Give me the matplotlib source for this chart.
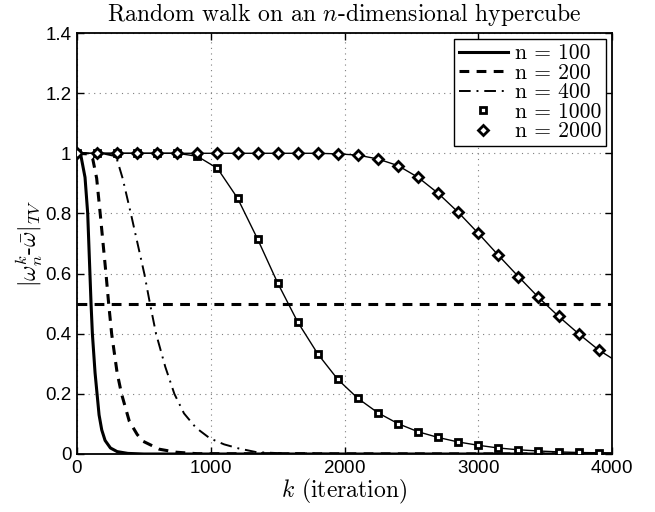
import matplotlib
matplotlib.use("Agg")
import matplotlib.pyplot as plt
import numpy as np

plt.rcParams['mathtext.fontset'] = 'cm'
plt.rcParams['axes.formatter.use_mathtext'] = True

# ---- data ----
k100 = [0, 30, 60, 80, 95, 105, 115, 135, 150, 165, 185, 210, 250, 300, 380, 500, 4000]
v100 = [1.0, 0.99, 0.92, 0.80, 0.62, 0.50, 0.40, 0.27, 0.20, 0.13, 0.08, 0.045, 0.02, 0.008, 0.002, 0.0, 0.0]

k200 = [0, 80, 117, 147, 174, 217, 237, 259, 300, 333, 391, 450, 491, 615, 740, 900, 4000]
v200 = [1.0, 0.998, 0.983, 0.917, 0.797, 0.598, 0.499, 0.40, 0.27, 0.20, 0.109, 0.065, 0.043, 0.016, 0.006, 0.001, 0.0]

k400 = [0, 200, 292, 341, 404, 504, 546, 591, 660, 728, 800, 890, 994, 1100, 1213, 1343, 1500, 2000, 4000]
v400 = [1.0, 0.999, 0.99, 0.917, 0.797, 0.598, 0.499, 0.40, 0.29, 0.20, 0.135, 0.087, 0.052, 0.032, 0.018, 0.006, 0.003, 0.0, 0.0]

k_mark = [0, 150, 300, 450, 600, 750, 900, 1050, 1200, 1350, 1500, 1650, 1800, 1950,
          2100, 2250, 2400, 2550, 2700, 2850, 3000, 3150, 3300, 3450, 3600, 3750, 3900]
v1000 = [1.0, 1.0, 1.0, 1.0, 1.0, 1.0, 0.99, 0.95, 0.851, 0.715, 0.569, 0.439, 0.333, 0.248,
         0.185, 0.137, 0.101, 0.074, 0.055, 0.040, 0.029, 0.020, 0.014, 0.010, 0.007, 0.005, 0.004]
v2000 = [1.0, 1.0, 1.0, 1.0, 1.0, 1.0, 1.0, 1.0, 1.0, 1.0, 1.0, 1.0, 1.0, 0.998,
         0.994, 0.981, 0.959, 0.920, 0.867, 0.804, 0.734, 0.661, 0.590, 0.521, 0.458, 0.400, 0.346]
k_end = 4000
v1000_end = 0.003
v2000_end = 0.318

threshold = 0.5
labels = ['n = 100', 'n = 200', 'n = 400', 'n = 1000', 'n = 2000']
xticks = [0, 1000, 2000, 3000, 4000]
yticks = [0, 0.2, 0.4, 0.6, 0.8, 1.0, 1.2, 1.4]
yticklabels = ['0', '0.2', '0.4', '0.6', '0.8', '1', '1.2', '1.4']

# ---- figure ----
fig = plt.figure(figsize=(6.55, 5.12), dpi=100)
ax = fig.add_axes([77/655, 58/512, 535/655, 421/512])

ax.plot(k100, v100, color='k', lw=2.2, ls='-', label=labels[0], zorder=3)
ax.plot(k200, v200, color='k', lw=2.2, ls=(0, (3.2, 2.4)), label=labels[1], zorder=3)
ax.plot(k400, v400, color='k', lw=1.4, ls=(0, (6, 3, 1, 3)), label=labels[2], zorder=3)

ax.axhline(threshold, color='k', lw=2.2, ls=(0, (3.2, 2.4)), zorder=2)

ax.plot(k_mark + [k_end], v1000 + [v1000_end], color='k', lw=1.0, zorder=3)
ax.plot(k_mark + [k_end], v2000 + [v2000_end], color='k', lw=1.0, zorder=3)
ax.plot(k_mark, v1000, ls='none', marker='s', ms=4.6, mfc='white', mec='k', mew=2.0,
        label=labels[3], zorder=4)
ax.plot(k_mark, v2000, ls='none', marker='D', ms=5.0, mfc='white', mec='k', mew=2.0,
        label=labels[4], zorder=4)

ax.set_xlim(0, 4000)
ax.set_ylim(0, 1.4)
ax.set_xticks(xticks)
ax.set_yticks(yticks)
ax.set_yticklabels(yticklabels)
for lab in ax.get_xticklabels() + ax.get_yticklabels():
    lab.set_fontfamily('Liberation Sans')
    lab.set_fontsize(13.5)

ax.tick_params(direction='in', length=5, width=1.0, top=True, right=True, pad=4)
ax.grid(True, color='#7f7f7f', ls=(0, (1, 4)), lw=0.8)
for s in ax.spines.values():
    s.set_linewidth(1.3)

ax.set_title('Random walk on an $n$-dimensional hypercube', fontfamily='cmr10', fontsize=17, pad=9)
ax.set_xlabel('$k$ (iteration)', fontfamily='cmr10', fontsize=17, labelpad=0)
ax.set_ylabel(r'$|\omega_n^k$-$\bar{\omega}|_{TV}$', fontfamily='cmr10', fontsize=17, labelpad=0)

leg = ax.legend(loc='upper right', prop={'family': 'cmr10', 'size': 15.5}, fancybox=False,
                edgecolor='k', framealpha=1, borderaxespad=0.3, handlelength=2.3,
                numpoints=1, labelspacing=0.0, borderpad=0.2, handletextpad=0.3)
leg.get_frame().set_linewidth(1.0)

fig.savefig('out.png', dpi=100)
